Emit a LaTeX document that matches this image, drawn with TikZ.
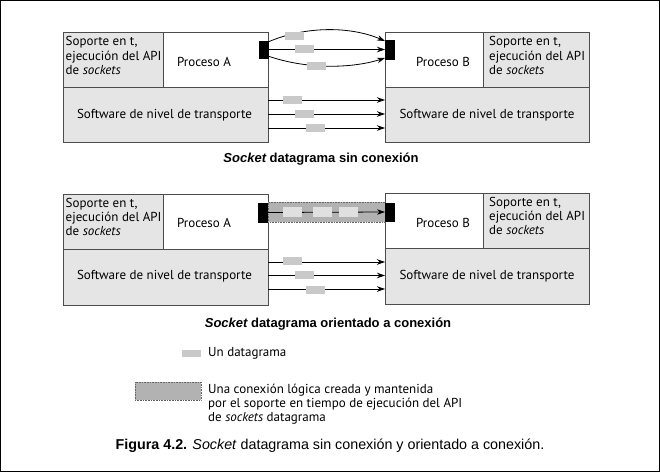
\documentclass[tikz,border=0pt]{standalone}
\usepackage{fontspec}
\setmainfont{PT Sans}
\newfontfamily\capfont{Liberation Sans}
\usetikzlibrary{arrows.meta,calc}
\definecolor{boxgrey}{gray}{0.9}
\definecolor{dgram}{gray}{0.79}
\definecolor{band}{gray}{0.70}
\definecolor{dgramlight}{gray}{0.88}
\begin{document}
\begin{tikzpicture}[x=1pt,y=-1pt,
  cell/.style={draw=black!70,line width=0.8pt,rectangle,anchor=north west,inner sep=0pt,outer sep=0pt},
  sock/.style={fill=black,draw=black,rectangle,anchor=north west,inner sep=0pt,outer sep=0pt,minimum width=9pt},
  dg/.style={fill=dgram,rectangle,inner sep=0pt,minimum width=19pt,minimum height=8pt},
  dgl/.style={fill=dgramlight,rectangle,inner sep=0pt,minimum width=19pt,minimum height=10pt},
  arr/.style={line width=0.8pt,-{Stealth[length=8pt,width=5.5pt]}},
  txt/.style={font=\fontsize{13}{14.2}\selectfont,inner sep=0pt},
  ltxt/.style={txt,align=left,anchor=west},
  captxt/.style={font=\capfont\bfseries\fontsize{13}{15}\selectfont,inner sep=0pt}
]
\useasboundingbox (0,0) rectangle (660,472);
\draw[line width=1.2pt] (0.6,0.6) rectangle (659.4,471.4);

% ---------- Top diagram ----------
\node[cell,fill=boxgrey,minimum width=100pt,minimum height=55pt] (supA) at (63,32) {};
\node[cell,fill=white,minimum width=105pt,minimum height=55pt] (procA) at (163,32) {};
\node[cell,fill=boxgrey,minimum width=205pt,minimum height=55pt] (transA) at (63,87) {};
\node[cell,fill=white,minimum width=98pt,minimum height=55pt] (procB) at (385,32) {};
\node[cell,fill=boxgrey,minimum width=106pt,minimum height=55pt] (supB) at (483,32) {};
\node[cell,fill=boxgrey,minimum width=204pt,minimum height=55pt] (transB) at (385,87) {};
\node[sock,minimum height=17pt] (sockA) at (259,41) {};
\node[sock,minimum height=19pt] (sockB) at (385,40) {};

\node[ltxt] (tsupA) at (65.5,55.5) {Soporte en t,\\ejecución del API\\de \textit{sockets}};
\node[txt] (tprocA) at (204,62) {Proceso A};
\node[txt] (tprocB) at (443,62) {Proceso B};
\node[ltxt] (tsupB) at (489,55.5) {Soporte en t,\\ejecución del API\\de \textit{sockets}};
\node[txt] (ttransA) at (164.5,115) {Software de nivel de transporte};
\node[txt] (ttransB) at (487,115) {Software de nivel de transporte};

\coordinate (a1) at (268,42); \coordinate (b1) at (385,41);
\coordinate (a2) at (268,49.5); \coordinate (b2) at (385,49.5);
\coordinate (a3) at (268,56); \coordinate (b3) at (385,58);
\draw[arr] (a1) .. controls (305,26) and (350,26) .. (b1);
\draw[arr] (a2) -- (b2);
\draw[arr] (a3) .. controls (305,69) and (350,69) .. (b3);
\node[dg] (d1) at (294,36) {};
\node[dg] (d2) at (304.5,49) {};
\node[dg] (d3) at (316.5,66) {};

\coordinate (t1a) at (268,100); \coordinate (t1b) at (385,100);
\coordinate (t2a) at (268,114); \coordinate (t2b) at (385,114);
\coordinate (t3a) at (268,128); \coordinate (t3b) at (385,128);
\draw[arr] (t1a) -- (t1b);
\draw[arr] (t2a) -- (t2b);
\draw[arr] (t3a) -- (t3b);
\node[dg] (d4) at (292.5,100) {};
\node[dg] (d5) at (304.5,114) {};
\node[dg] (d6) at (315.5,128) {};

\node[captxt] (cap1) at (321,159) {\itshape Socket\upshape{} datagrama sin conexión};

% ---------- Bottom diagram ----------
\node[cell,fill=boxgrey,minimum width=100pt,minimum height=55pt] (supA2) at (63,194) {};
\node[cell,fill=white,minimum width=105pt,minimum height=55pt] (procA2) at (163,194) {};
\node[cell,fill=boxgrey,minimum width=205pt,minimum height=56pt] (transA2) at (63,249) {};
\node[cell,fill=white,minimum width=98pt,minimum height=55pt] (procB2) at (385,193) {};
\node[cell,fill=boxgrey,minimum width=106pt,minimum height=55pt] (supB2) at (483,193) {};
\node[cell,fill=boxgrey,minimum width=204pt,minimum height=56pt] (transB2) at (385,248) {};

\node[ltxt] (tsupA2) at (65.5,217) {Soporte en t,\\ejecución del API\\de \textit{sockets}};
\node[txt] (tprocA2) at (204,223) {Proceso A};
\node[txt] (tprocB2) at (443,223) {Proceso B};
\node[ltxt] (tsupB2) at (489,216) {Soporte en t,\\ejecución del API\\de \textit{sockets}};
\node[txt] (ttransA2) at (164.5,276) {Software de nivel de transporte};
\node[txt] (ttransB2) at (487,276) {Software de nivel de transporte};

\node[rectangle,anchor=north west,inner sep=0pt,minimum width=117pt,minimum height=20pt,fill=band,draw=black!60,densely dotted,line width=0.6pt] (bandC) at (268,202) {};
\node[sock,minimum height=19pt] (sockA2) at (258,203) {};
\node[sock,minimum height=18pt] (sockB2) at (385,203) {};
\draw[arr] (sockA2.east) -- (sockB2.west);
\node[dgl] (c1) at (292.5,212) {};
\node[dgl] (c2) at (322,212) {};
\node[dgl] (c3) at (348.5,212) {};

\coordinate (u1a) at (268,262); \coordinate (u1b) at (385,262);
\coordinate (u2a) at (268,275.5); \coordinate (u2b) at (385,275.5);
\coordinate (u3a) at (268,289); \coordinate (u3b) at (385,289);
\draw[arr] (u1a) -- (u1b);
\draw[arr] (u2a) -- (u2b);
\draw[arr] (u3a) -- (u3b);
\node[dg] (d7) at (292.5,261) {};
\node[dg] (d8) at (304.5,275) {};
\node[dg] (d9) at (315.5,290) {};

\node[captxt] (cap2) at (328,324) {\itshape Socket\upshape{} datagrama orientado a conexión};

% ---------- Legend ----------
\node[dg,minimum height=7pt] (legdg) at (191,353) {};
\node[ltxt] (tlegdg) at (208,353) {Un datagrama};
\node[rectangle,inner sep=0pt,minimum width=66pt,minimum height=18pt,fill=band,draw=black!60,densely dotted,line width=0.6pt] (legband) at (168,391) {};
\node[ltxt] (tlegband) at (208,404) {Una conexión lógica creada y mantenida\\por el soporte en tiempo de ejecución del API\\de \textit{sockets} datagrama};

\node[inner sep=0pt,font=\capfont\fontsize{14.3}{16}\selectfont] (figcap) at (330,446) {\textbf{Figura 4.2.} \textit{Socket} datagrama sin conexión y orientado a conexión.};
\end{tikzpicture}
\end{document}
